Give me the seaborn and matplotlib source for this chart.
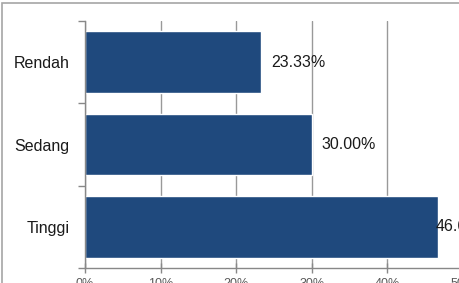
import matplotlib
matplotlib.use("Agg")
import matplotlib.pyplot as plt
import seaborn as sns
import pandas as pd
from matplotlib.patches import Rectangle

categories = ["Rendah", "Sedang", "Tinggi"]
values = [23.33, 30.00, 46.67]
value_labels = ["23.33%", "30.00%", "46.67%"]
xtick_values = [0, 10, 20, 30, 40, 50]
xtick_labels = ["0%", "10%", "20%", "30%", "40%", "50%"]

sns.set_style("white")
plt.rcParams["font.family"] = ["Liberation Sans", "DejaVu Sans"]

W, H = 459, 283
fig = plt.figure(figsize=(W / 100, H / 100), dpi=100)
fig.patch.set_facecolor("white")

# outer chart border (cropped at right/bottom)
fig.add_artist(Rectangle((2 / W, -0.1), 1.2, (H - 3) / H + 0.1, transform=fig.transFigure,
                         fill=False, edgecolor="#a6a6a6", linewidth=1.2))

ax = fig.add_axes([85 / W, 15 / H, (5 * 75.6) / W, 247 / H])
df = pd.DataFrame({"cat": categories, "val": values})
sns.barplot(data=df, x="val", y="cat", orient="h", color="#1f497d",
            saturation=1, width=0.75, ax=ax)

ax.set_xlim(0, 50)
ax.set_ylim(2.5, -0.5)
ax.set_xticks(xtick_values)
ax.set_xticklabels(xtick_labels, color="#595959", fontsize=9)
ax.set_xlabel("")
ax.set_ylabel("")

# category ticks at band boundaries
ax.set_yticks([-0.5, 0.5, 1.5, 2.5], minor=True)
ax.tick_params(axis="y", which="major", left=False, length=0, pad=11, labelsize=11.5, labelcolor="#1a1a1a")
ax.tick_params(axis="y", which="minor", left=True, length=5, direction="out", color="#888888", width=1)
ax.tick_params(axis="x", which="major", bottom=True, length=7, direction="inout", color="#888888", width=1, pad=4)

ax.xaxis.grid(True, color="#999999", linewidth=1)
ax.set_axisbelow(True)
for s in ["top", "right"]:
    ax.spines[s].set_visible(False)
for s in ["left", "bottom"]:
    ax.spines[s].set_color("#888888")
    ax.spines[s].set_linewidth(1)

pads = [10, 10, -2]
for i, (v, lab) in enumerate(zip(values, value_labels)):
    ax.annotate(lab, (v, i), xytext=(pads[i], 0), textcoords="offset pixels",
                va="center", ha="left", fontsize=11.5, color="#1a1a1a")

fig.savefig("out.png", dpi=100)
